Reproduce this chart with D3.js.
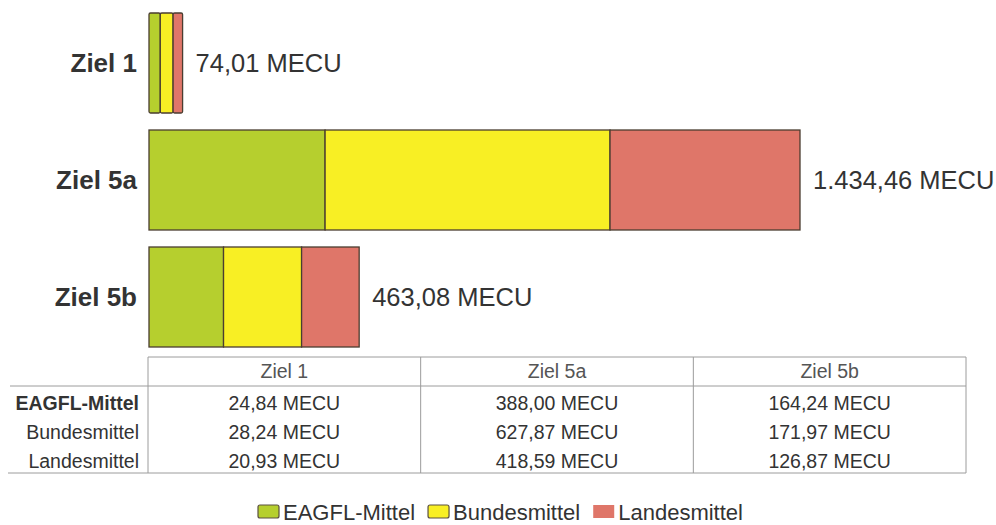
<!DOCTYPE html>
<meta charset="utf-8">
<script src="https://d3js.org/d3.v7.min.js"></script>
<style>
  body { margin: 0; background: #fff; }
  text { font-family: "Liberation Sans", Arial, sans-serif; fill: #333; }
</style>
<div id="chart"></div>
<script>

// data
var categories = ["Ziel 1", "Ziel 5a", "Ziel 5b"];
var series = ["EAGFL-Mittel", "Bundesmittel", "Landesmittel"];
var eagfl = [24.84, 388.00, 164.24];
var bund = [28.24, 627.87, 171.97];
var land = [20.93, 418.59, 126.87];
var totals = [74.01, 1434.46, 463.08];
var colors = ["#b6cf2e", "#f8ef24", "#df7669"];

var width = 996, height = 525;

var de = d3.formatLocale({decimal: ",", thousands: ".", grouping: [3], currency: ["", ""]});
var fmt = de.format(",.2f");

var svg = d3.select("#chart").append("svg")
    .attr("width", width)
    .attr("height", height);

// rows for the stack
var rows = categories.map(function(c, i) {
  return {cat: c, "EAGFL-Mittel": eagfl[i], "Bundesmittel": bund[i], "Landesmittel": land[i]};
});
var stacked = d3.stack().keys(series)(rows);

var x = d3.scaleLinear()
  .domain([0, d3.max(totals)])
  .range([149, 800]);

var y = d3.scaleBand()
  .domain(categories)
  .range([13, 347])
  .paddingInner(17 / 117);

var color = d3.scaleOrdinal().domain(series).range(colors);

// bars
svg.append("g")
  .selectAll("g")
  .data(stacked)
  .enter().append("g")
    .attr("fill", function(d) { return color(d.key); })
  .selectAll("rect")
  .data(function(d) { return d; })
  .enter().append("rect")
    .attr("x", function(d) { return x(d[0]); })
    .attr("y", function(d) { return y(d.data.cat); })
    .attr("width", function(d) { return x(d[1]) - x(d[0]); })
    .attr("height", y.bandwidth())
    .attr("rx", function(d) { return x(d.data[series[0]] + d.data[series[1]] + d.data[series[2]]) - x(0) < 50 ? 1.5 : 0; })
    .attr("stroke", "#4a3d30")
    .attr("stroke-width", 1.3);

// category labels
svg.append("g")
  .selectAll("text")
  .data(categories)
  .enter().append("text")
    .attr("x", 137)
    .attr("y", function(d) { return y(d) + y.bandwidth() / 2; })
    .attr("dy", "0.35em")
    .attr("text-anchor", "end")
    .attr("font-size", 26)
    .attr("font-weight", "bold")
    .text(function(d) { return d; });

// total labels
svg.append("g")
  .selectAll("text")
  .data(totals)
  .enter().append("text")
    .attr("x", function(d) { return x(d) + 13; })
    .attr("y", function(d, i) { return y(categories[i]) + y.bandwidth() / 2; })
    .attr("dy", "0.35em")
    .attr("font-size", 25.5)
    .text(function(d) { return fmt(d) + " MECU"; });

// table
var tLeft = 148, tRight = 966, tTop = 357, tHead = 386, tBottom = 473;
var col = d3.scaleBand().domain(categories).range([tLeft, tRight]);
var row = d3.scaleBand().domain(series).range([tHead, tBottom]);
var values = [eagfl, bund, land];

var table = svg.append("g").attr("stroke", "#9c9c9c").attr("stroke-width", 1);
table.append("line").attr("x1", tLeft).attr("x2", tRight).attr("y1", tTop).attr("y2", tTop);
table.append("line").attr("x1", 10).attr("x2", tRight).attr("y1", tHead).attr("y2", tHead);
table.append("line").attr("x1", 8).attr("x2", tRight).attr("y1", tBottom).attr("y2", tBottom);
table.selectAll(".vline")
  .data(categories.map(function(c) { return col(c); }).concat([tRight]))
  .enter().append("line")
    .attr("class", "vline")
    .attr("x1", function(d) { return d; })
    .attr("x2", function(d) { return d; })
    .attr("y1", tTop)
    .attr("y2", tBottom);

// header
svg.append("g")
  .selectAll("text")
  .data(categories)
  .enter().append("text")
    .attr("x", function(d) { return col(d) + col.bandwidth() / 2; })
    .attr("y", (tTop + tHead) / 2)
    .attr("dy", "0.35em")
    .attr("text-anchor", "middle")
    .attr("font-size", 19.5)
    .style("fill", "#555")
    .text(function(d) { return d; });

// row labels
svg.append("g")
  .selectAll("text")
  .data(series)
  .enter().append("text")
    .attr("x", 139)
    .attr("y", function(d) { return row(d) + row.bandwidth() / 2 + 3; })
    .attr("dy", "0.35em")
    .attr("text-anchor", "end")
    .attr("font-size", 19.5)
    .attr("font-weight", function(d, i) { return i === 0 ? "bold" : "normal"; })
    .text(function(d) { return d; });

// cells
series.forEach(function(s, i) {
  svg.append("g")
    .selectAll("text")
    .data(values[i])
    .enter().append("text")
      .attr("x", function(d, j) { return col(categories[j]) + col.bandwidth() / 2; })
      .attr("y", row(s) + row.bandwidth() / 2 + 3)
      .attr("dy", "0.35em")
      .attr("text-anchor", "middle")
      .attr("font-size", 19.5)
      .text(function(d) { return fmt(d) + " MECU"; });
});

// legend
var legend = svg.append("g");
var lx = 258;
series.forEach(function(s, i) {
  legend.append("rect")
    .attr("x", lx)
    .attr("y", 505)
    .attr("width", 21)
    .attr("height", 13)
    .attr("rx", i < 2 ? 2 : 0)
    .attr("fill", color(s))
    .attr("stroke", i < 2 ? "#5a5040" : "none")
    .attr("stroke-width", 1.2);
  var t = legend.append("text")
    .attr("x", lx + 25)
    .attr("y", 520)
    .attr("font-size", 22)
    .text(s);
  lx += 25 + t.node().getComputedTextLength() + 13;
});

</script>
